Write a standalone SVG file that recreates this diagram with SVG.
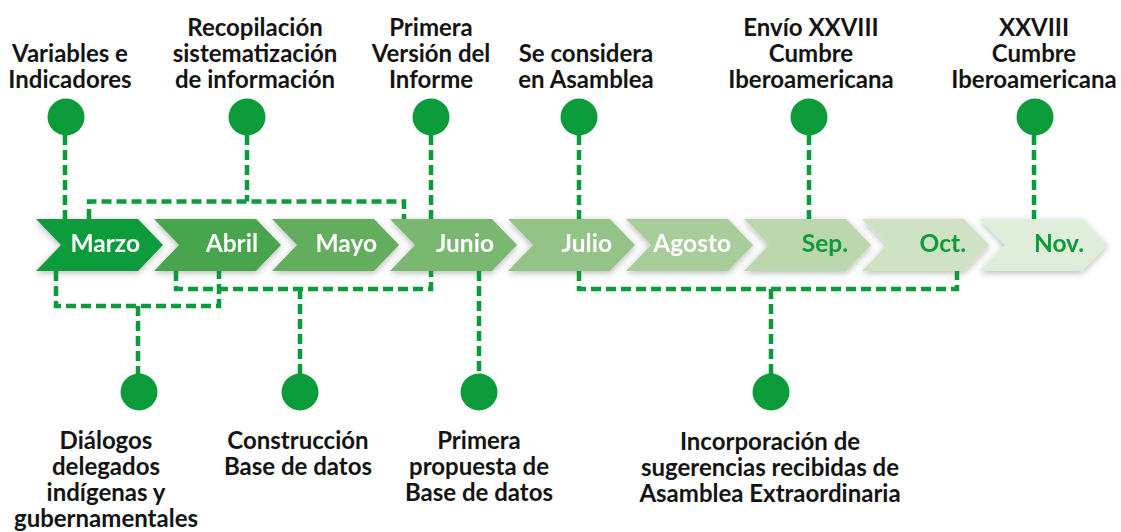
<svg xmlns="http://www.w3.org/2000/svg" width="1121" height="532" viewBox="0 0 1121 532">
<defs>
<filter id="sh" x="-20%" y="-40%" width="140%" height="180%">
<feDropShadow dx="0" dy="2" stdDeviation="3.5" flood-color="#000" flood-opacity="0.28"/>
</filter>
<style>
.lbl{font-family:Lato,"Open Sans","Liberation Sans",sans-serif;font-weight:700;font-size:24px;fill:#141414;text-anchor:middle}
.mon{font-family:Lato,"Open Sans","Liberation Sans",sans-serif;font-weight:700;font-size:24.5px;text-anchor:end}
.w{fill:#ffffff}
.g{fill:#0b9b3a}
.dot{fill:#0b9b3a}
.con{fill:none;stroke:#0b9b3a;stroke-width:4.5;stroke-dasharray:10 5}
</style>
</defs>
<rect width="1121" height="532" fill="#ffffff"/>

<g id="timeline" filter="url(#sh)">
<g id="m-marzo"><polygon points="36,219 138,219 163,245 138,271 36,271 61,245" fill="#0d9b3b"/><text class="mon w" x="140" y="252">Marzo</text></g>
<g id="m-abril"><polygon points="154,219 256,219 281,245 256,271 154,271 179,245" fill="#48a54e"/><text class="mon w" x="258" y="252">Abril</text></g>
<g id="m-mayo"><polygon points="272,219 374,219 399,245 374,271 272,271 297,245" fill="#62ae5b"/><text class="mon w" x="377" y="252">Mayo</text></g>
<g id="m-junio"><polygon points="390,219 492,219 517,245 492,271 390,271 415,245" fill="#7ab76f"/><text class="mon w" x="494" y="252">Junio</text></g>
<g id="m-julio"><polygon points="508,219 610,219 635,245 610,271 508,271 533,245" fill="#93c387"/><text class="mon w" x="612" y="252">Julio</text></g>
<g id="m-agosto"><polygon points="626,219 728,219 753,245 728,271 626,271 651,245" fill="#a8cd9a"/><text class="mon w" x="731" y="252">Agosto</text></g>
<g id="m-sep"><polygon points="744,219 846,219 871,245 846,271 744,271 769,245" fill="#bcd7ae"/><text class="mon g" x="848" y="252">Sep.</text></g>
<g id="m-oct"><polygon points="862,219 964,219 989,245 964,271 862,271 887,245" fill="#cfe3c4"/><text class="mon g" x="966" y="252">Oct.</text></g>
<g id="m-nov"><polygon points="980,219 1082,219 1107,245 1082,271 980,271 1005,245" fill="#dfeddb"/><text class="mon g" x="1084" y="252">Nov.</text></g>
</g>

<g id="connectors">
<path class="con" d="M65,135 V219"/>
<path class="con" d="M247,135 V201.5"/>
<path class="con" d="M89,219 V201.5 H404 V219"/>
<path class="con" d="M431,135 V219"/>
<path class="con" d="M579,135 V219"/>
<path class="con" d="M809,135 V219"/>
<path class="con" d="M1034,135 V219"/>
<path class="con" d="M56,271 V306 H219 V271"/>
<path class="con" d="M138,306 V374"/>
<path class="con" d="M176,271 V289 H431 V271"/>
<path class="con" d="M300,289 V374"/>
<path class="con" d="M479,271 V374"/>
<path class="con" d="M579,271 V289 H957 V271"/>
<path class="con" d="M771,289 V374"/>
</g>

<g id="n-variables"><circle class="dot" cx="66" cy="117" r="18.5"/><text class="lbl" y="62"><tspan x="70">Variables e</tspan><tspan x="70" dy="26">Indicadores</tspan></text></g>
<g id="n-recopilacion"><circle class="dot" cx="247" cy="117" r="18.5"/><text class="lbl" y="36"><tspan x="255">Recopilación</tspan><tspan x="255" dy="26">sistematización</tspan><tspan x="255" dy="26">de información</tspan></text></g>
<g id="n-primera-version"><circle class="dot" cx="431" cy="117" r="18.5"/><text class="lbl" y="36"><tspan x="431">Primera</tspan><tspan x="431" dy="26">Versión del</tspan><tspan x="431" dy="26">Informe</tspan></text></g>
<g id="n-asamblea"><circle class="dot" cx="579" cy="117" r="18.5"/><text class="lbl" y="62"><tspan x="586">Se considera</tspan><tspan x="586" dy="26">en Asamblea</tspan></text></g>
<g id="n-envio"><circle class="dot" cx="809" cy="117" r="18.5"/><text class="lbl" y="36"><tspan x="811">Envío XXVIII</tspan><tspan x="811" dy="26">Cumbre</tspan><tspan x="811" dy="26">Iberoamericana</tspan></text></g>
<g id="n-cumbre"><circle class="dot" cx="1035" cy="117" r="18.5"/><text class="lbl" y="36"><tspan x="1034">XXVIII</tspan><tspan x="1034" dy="26">Cumbre</tspan><tspan x="1034" dy="26">Iberoamericana</tspan></text></g>

<g id="n-dialogos"><circle class="dot" cx="139" cy="392" r="18.5"/><text class="lbl" y="449"><tspan x="106">Diálogos</tspan><tspan x="106" dy="26">delegados</tspan><tspan x="106" dy="26">indígenas y</tspan><tspan x="106" dy="26">gubernamentales</tspan></text></g>
<g id="n-construccion"><circle class="dot" cx="300" cy="392" r="18.5"/><text class="lbl" y="449"><tspan x="298">Construcción</tspan><tspan x="298" dy="26">Base de datos</tspan></text></g>
<g id="n-propuesta"><circle class="dot" cx="479" cy="392" r="18.5"/><text class="lbl" y="449"><tspan x="479">Primera</tspan><tspan x="479" dy="26">propuesta de</tspan><tspan x="479" dy="26">Base de datos</tspan></text></g>
<g id="n-incorporacion"><circle class="dot" cx="771" cy="392" r="18.5"/><text class="lbl" y="450"><tspan x="770">Incorporación de</tspan><tspan x="770" dy="26">sugerencias recibidas de</tspan><tspan x="770" dy="26">Asamblea Extraordinaria</tspan></text></g>
</svg>
